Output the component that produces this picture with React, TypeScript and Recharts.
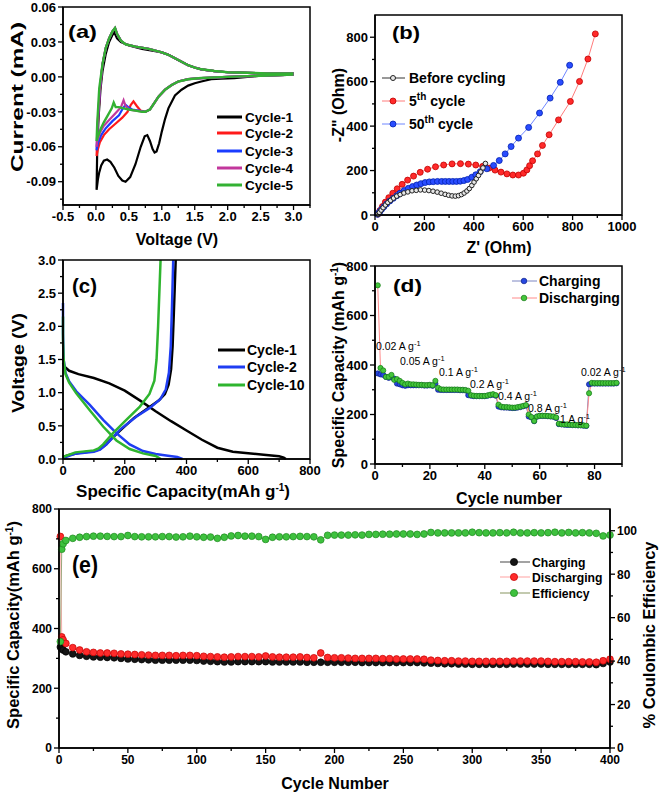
import React from 'react'
import { LineChart, Line, XAxis, YAxis } from 'recharts'

const W = 661
const H = 795
const F = '"Liberation Sans", Arial, Helvetica, sans-serif'

// ---------- (a) cyclic voltammetry, [V, mA] ----------
const cv1: [number, number][] = [
  [3.0, 0.002], [2.8, 0.0015], [2.5, 0.001], [2.3, 0.0], [2.1, -0.001], [1.9, -0.0015], [1.75, -0.002],
  [1.6, -0.004], [1.5, -0.0055], [1.4, -0.0075], [1.3, -0.011], [1.2, -0.016], [1.1, -0.027], [1.05, -0.036],
  [1.0, -0.047], [0.96, -0.057], [0.92, -0.064], [0.89, -0.065], [0.86, -0.062], [0.82, -0.055], [0.78, -0.05],
  [0.74, -0.051], [0.68, -0.06], [0.6, -0.075], [0.52, -0.086], [0.45, -0.09], [0.4, -0.089], [0.34, -0.085],
  [0.28, -0.078], [0.22, -0.073], [0.17, -0.071], [0.12, -0.072], [0.08, -0.076], [0.05, -0.082], [0.03, -0.088],
  [0.01, -0.097], [0.02, -0.06], [0.04, -0.035], [0.07, -0.01], [0.1, 0.005], [0.15, 0.02], [0.2, 0.03],
  [0.25, 0.036], [0.28, 0.038], [0.32, 0.033], [0.38, 0.03], [0.5, 0.027], [0.7, 0.024], [0.9, 0.022],
  [1.0, 0.021], [1.1, 0.019], [1.2, 0.016], [1.3, 0.013], [1.4, 0.01], [1.5, 0.008], [1.6, 0.0065],
  [1.8, 0.005], [2.0, 0.004], [2.3, 0.0035], [2.6, 0.003], [3.0, 0.003],
]
const cvHigh: [number, number][] = [
  [3.0, 0.002], [2.5, 0.001], [2.0, 0.0], [1.6, -0.001], [1.4, -0.002], [1.25, -0.004], [1.15, -0.007],
  [1.05, -0.011], [0.95, -0.017], [0.88, -0.023], [0.82, -0.028], [0.75, -0.03],
]
const cvAnodic: [number, number][] = [
  [0.1, 0.011], [0.15, 0.025], [0.2, 0.033], [0.25, 0.039], [0.29, 0.042], [0.32, 0.037], [0.38, 0.031],
  [0.45, 0.028], [0.6, 0.026], [0.8, 0.024], [1.0, 0.021], [1.1, 0.019], [1.2, 0.016], [1.3, 0.013],
  [1.4, 0.01], [1.5, 0.008], [1.6, 0.0065], [1.8, 0.005], [2.0, 0.004], [2.3, 0.0035], [2.6, 0.003], [3.0, 0.003],
]
const cv2Low: [number, number][] = [
  [0.68, -0.029], [0.62, -0.025], [0.57, -0.021], [0.53, -0.024], [0.48, -0.03], [0.4, -0.035], [0.3, -0.04],
  [0.2, -0.045], [0.12, -0.05], [0.06, -0.056], [0.03, -0.062], [0.01, -0.068], [0.03, -0.04], [0.06, -0.012],
]
const cv3Low: [number, number][] = [
  [0.65, -0.029], [0.55, -0.028], [0.49, -0.026], [0.45, -0.024], [0.41, -0.027], [0.35, -0.033], [0.25, -0.038],
  [0.15, -0.044], [0.08, -0.05], [0.03, -0.057], [0.01, -0.063], [0.03, -0.038], [0.06, -0.011],
]
const cv4Low: [number, number][] = [
  [0.6, -0.029], [0.5, -0.028], [0.45, -0.025], [0.42, -0.02], [0.38, -0.026], [0.3, -0.031], [0.2, -0.037],
  [0.12, -0.042], [0.06, -0.048], [0.02, -0.055], [0.01, -0.06], [0.03, -0.036], [0.06, -0.01],
]
const cv5Low: [number, number][] = [
  [0.7, -0.03], [0.6, -0.029], [0.5, -0.028], [0.42, -0.027], [0.35, -0.026], [0.3, -0.026], [0.27, -0.022],
  [0.24, -0.027], [0.18, -0.033], [0.12, -0.039], [0.07, -0.045], [0.03, -0.051], [0.01, -0.055], [0.02, -0.04],
  [0.05, -0.01],
]

// ---------- (b) Nyquist, [Z', -Z''] ----------
const eisBefore: [number, number][] = [
  [12, 3], [18, 12], [25, 22], [33, 33], [42, 45], [52, 56], [63, 66], [75, 76], [88, 85], [102, 92], [117, 99],
  [133, 104], [150, 109], [167, 111], [184, 113], [201, 112], [218, 110], [235, 107], [252, 103], [268, 98],
  [284, 93], [298, 89], [312, 86], [325, 85], [338, 87], [350, 92], [361, 99], [372, 108], [382, 119], [392, 133],
  [401, 148], [410, 163], [419, 178], [428, 194], [437, 212], [447, 232],
]
const eis5th: [number, number][] = [
  [12, 4], [20, 20], [30, 38], [42, 58], [56, 78], [72, 98], [90, 118], [110, 138], [132, 157], [156, 175],
  [183, 192], [213, 206], [245, 217], [278, 225], [312, 230], [346, 231], [378, 229], [408, 225], [436, 219],
  [462, 211], [486, 202], [510, 193], [534, 185], [558, 180], [581, 180], [601, 188], [615, 203], [626, 222],
  [638, 244], [658, 275], [678, 313], [705, 361], [743, 428], [791, 511], [828, 601], [862, 702], [892, 815],
]
const eis50th: [number, number][] = [
  [10, 3], [14, 8], [20, 16], [27, 26], [36, 37], [47, 50], [60, 63], [74, 75], [88, 87], [101, 98], [118, 110],
  [135, 120], [152, 128], [169, 135], [186, 141], [203, 146], [220, 149], [236, 150], [253, 151], [270, 151],
  [285, 151], [300, 151], [315, 151], [330, 151], [345, 152], [360, 155], [375, 160], [392, 170], [408, 181],
  [426, 195], [453, 208], [480, 223], [503, 245], [527, 275], [551, 308], [581, 346], [622, 394], [666, 459],
  [709, 526], [750, 597], [788, 674],
]

// ---------- (c) charge / discharge profiles, [mAh/g, V] ----------
const gc1Dis: [number, number][] = [
  [0, 1.45], [5, 1.39], [20, 1.33], [50, 1.28], [100, 1.22], [150, 1.14], [200, 1.03], [250, 0.88], [300, 0.72],
  [350, 0.57], [400, 0.43], [450, 0.29], [500, 0.17], [550, 0.11], [600, 0.085], [650, 0.065], [700, 0.04],
  [715, 0.02], [722, 0.0],
]
const gc1Chg: [number, number][] = [
  [0, 0.03], [20, 0.06], [50, 0.09], [100, 0.12], [120, 0.15], [140, 0.22], [160, 0.32], [190, 0.45], [230, 0.62],
  [270, 0.75], [310, 0.88], [330, 0.98], [342, 1.12], [350, 1.35], [355, 1.7], [359, 2.2], [362, 2.6], [365, 3.0],
]
const gc2Dis: [number, number][] = [
  [0, 2.35], [0, 1.9], [2, 1.5], [8, 1.3], [20, 1.17], [43, 1.02], [86, 0.82], [130, 0.59], [173, 0.39],
  [216, 0.22], [259, 0.12], [300, 0.075], [340, 0.05], [370, 0.03], [387, 0.0],
]
const gc2Chg: [number, number][] = [
  [0, 0.015], [40, 0.08], [100, 0.11], [120, 0.14], [141, 0.22], [184, 0.44], [238, 0.64], [281, 0.77],
  [315, 0.9], [333, 1.05], [343, 1.3], [349, 1.7], [353, 2.3], [357, 3.0],
]
const gc10Dis: [number, number][] = [
  [0, 2.15], [0, 1.8], [2, 1.5], [8, 1.28], [20, 1.15], [43, 0.99], [86, 0.74], [130, 0.49], [173, 0.28],
  [216, 0.15], [259, 0.085], [300, 0.045], [317, 0.0],
]
const gc10Chg: [number, number][] = [
  [0, 0.03], [40, 0.1], [100, 0.13], [115, 0.16], [130, 0.22], [162, 0.39], [205, 0.59], [249, 0.79],
  [280, 0.98], [296, 1.18], [303, 1.5], [308, 2.0], [312, 2.5], [316, 3.0],
]

// ---------- (d) rate capability ----------
const rateCycles = [
  1, 2, 3, 4, 5, 6, 7, 8, 9, 10, 11, 12, 13, 14, 15, 16, 17, 18, 19, 20, 21, 22, 23, 24, 25, 26, 27, 28, 29, 30,
  31, 32, 33, 34, 35, 36, 37, 38, 39, 40, 41, 42, 43, 44, 45, 46, 47, 48, 49, 50, 51, 52, 53, 54, 55, 56, 57, 58,
  59, 60, 61, 62, 63, 64, 65, 66, 67, 68, 69, 70, 71, 72, 73, 74, 75, 76, 77, 78, 79, 80, 81, 82, 83, 84, 85, 86,
  87, 88,
]
const rateCharge = [
  366, 362, 360, 352, 348, 350, 345, 325, 322, 318, 316, 318, 318, 318, 318, 318, 318, 317, 317, 318, 316, 325,
  300, 299, 299, 299, 299, 299, 299, 299, 298, 298, 297, 278, 276, 274, 274, 274, 274, 274, 276, 278, 280, 276,
  232, 229, 228, 228, 227, 226, 226, 228, 230, 233, 236, 192, 188, 173, 191, 194, 194, 194, 193, 192, 191, 186,
  161, 160, 159, 158, 158, 157, 157, 156, 156, 155, 154, 322, 325, 325, 325, 325, 325, 325, 325, 325, 325, 326,
]
const rateDischarge = [
  722, 388, 378, 352, 352, 360, 340, 343, 336, 328, 322, 325, 322, 322, 321, 320, 320, 319, 319, 320, 318, 336,
  308, 302, 301, 301, 301, 301, 301, 301, 300, 300, 299, 296, 278, 276, 275, 275, 275, 275, 277, 280, 282, 278,
  240, 232, 230, 230, 229, 228, 228, 230, 232, 235, 238, 200, 190, 174, 192, 195, 195, 195, 194, 193, 192, 188,
  163, 161, 160, 160, 159, 158, 158, 157, 157, 156, 155, 286, 328, 327, 327, 327, 327, 327, 327, 327, 327, 328,
]
const rateLabels = ['0.02', '0.05', '0.1', '0.2', '0.4', '0.8', '1', '0.02']

// ---------- (e) long cycling ----------
const longCycles = [
  1, 2, 3, 5, 10, 15, 20, 25, 30, 35, 40, 45, 50, 55, 60, 65, 70, 75, 80, 85, 90, 95, 100, 105, 110, 115, 120,
  125, 130, 135, 140, 145, 150, 155, 160, 165, 170, 175, 180, 185, 190, 195, 200, 205, 210, 215, 220, 225, 230,
  235, 240, 245, 250, 255, 260, 265, 270, 275, 280, 285, 290, 295, 300, 305, 310, 315, 320, 325, 330, 335, 340,
  345, 350, 355, 360, 365, 370, 375, 380, 385, 390, 395, 400,
]
const longDischarge = [
  708, 372, 362, 350, 336, 328, 322, 320, 318, 318, 317, 315, 314, 313, 312, 311, 310, 310, 310, 309, 310, 310,
  309, 307, 306, 305, 304, 305, 306, 306, 306, 305, 308, 305, 304, 304, 304, 305, 303, 302, 318, 303, 302, 302,
  301, 300, 300, 300, 300, 299, 299, 298, 298, 298, 298, 297, 294, 293, 292, 292, 291, 291, 290, 290, 290, 290,
  290, 290, 291, 291, 291, 291, 291, 290, 289, 289, 289, 289, 288, 288, 287, 292, 297,
]
const longCharge = [
  338, 332, 328, 322, 315, 310, 307, 305, 304, 303, 302, 300, 298, 297, 296, 295, 294, 294, 294, 294, 294, 294,
  293, 291, 290, 289, 288, 288, 289, 289, 289, 289, 289, 288, 288, 288, 288, 288, 287, 287, 287, 287, 287, 287,
  287, 287, 286, 286, 286, 286, 286, 286, 286, 286, 286, 285, 284, 283, 282, 282, 281, 281, 280, 280, 280, 280,
  280, 280, 281, 281, 281, 281, 281, 280, 280, 280, 280, 280, 280, 280, 279, 283, 288,
]
const longEfficiency = [
  49, 91.5, 94, 95.5, 96.5, 97, 97.3, 97.5, 97.5, 97.4, 97.3, 97.3, 97.8, 97.3, 97.2, 97.2, 97.2, 97.3, 97.3,
  97.1, 97.2, 97.5, 97.2, 97.0, 97.1, 96.5, 97.0, 97.6, 97.8, 97.5, 97.5, 97.3, 96.0, 97.0, 97.2, 97.2, 97.3,
  97.4, 97.3, 97.2, 95.8, 97.9, 98.0, 98.0, 98.0, 98.1, 98.0, 98.3, 98.3, 98.4, 98.4, 98.5, 98.5, 98.5, 98.3,
  98.5, 99.2, 99.0, 99.0, 99.0, 99.0, 99.0, 99.3, 99.1, 99.0, 99.0, 99.1, 99.0, 99.3, 99.0, 99.0, 99.1, 99.0,
  99.1, 99.3, 99.0, 99.2, 99.0, 99.1, 99.0, 98.8, 97.6, 98.0,
]

// ---------- ticks (major + minor) ----------
const aXTicks = [-0.5, -0.25, 0, 0.25, 0.5, 0.75, 1, 1.25, 1.5, 1.75, 2, 2.25, 2.5, 2.75, 3, 3.25]
const aYTicks = [-0.105, -0.09, -0.075, -0.06, -0.045, -0.03, -0.015, 0, 0.015, 0.03, 0.045, 0.06]
const bXTicks = [0, 100, 200, 300, 400, 500, 600, 700, 800, 900, 1000]
const bYTicks = [0, 100, 200, 300, 400, 500, 600, 700, 800]
const cXTicks = [0, 100, 200, 300, 400, 500, 600, 700, 800]
const cYTicks = [0, 0.25, 0.5, 0.75, 1, 1.25, 1.5, 1.75, 2, 2.25, 2.5, 2.75, 3]
const dXTicks = [0, 10, 20, 30, 40, 50, 60, 70, 80, 90]
const dYTicks = [0, 100, 200, 300, 400, 500, 600, 700, 800]
const eXTicks = [0, 25, 50, 75, 100, 125, 150, 175, 200, 225, 250, 275, 300, 325, 350, 375, 400]
const eYLTicks = [0, 100, 200, 300, 400, 500, 600, 700, 800]
const eYRTicks = [0, 10, 20, 30, 40, 50, 60, 70, 80, 90, 100]

const pts = (a: [number, number][]) => a.map(([x, y]) => ({ x, y }))

const rateData = rateCycles.map((c, i) => ({ c, chg: rateCharge[i], dis: rateDischarge[i] }))
const longData = longCycles.map((c, i) => ({
  c, chg: longCharge[i], dis: longDischarge[i], eff: longEfficiency[i],
}))

// plot boxes in page pixels
const PA = { L: 63, T: 7, R: 310, B: 205 }
const PB = { L: 375, T: 15, R: 622, B: 215 }
const PC = { L: 63, T: 260, R: 310, B: 459 }
const PD = { L: 375, T: 266, R: 622, B: 464 }
const PE = { L: 59, T: 509, R: 610, B: 748 }

type Box = typeof PA
const marginFor = (b: Box, rightAxis = false) => ({
  top: b.T,
  left: b.L - 40,
  right: W - b.R - (rightAxis ? 40 : 0),
  bottom: H - b.B - 30,
})

const mkTick = (side: 'left' | 'right' | 'bottom', step: number, fmt: (v: number) => string, fs = 13) =>
  (p: any) => {
    const v = p.payload.value as number
    const major = Math.abs(v / step - Math.round(v / step)) < 1e-6
    const len = major ? 5 : 3
    const { x, y } = p
    const t = { fontSize: fs, fontWeight: 700, fontFamily: F, fill: '#000' }
    if (side === 'bottom') {
      return (
        <g>
          <line x1={x} x2={x} y1={y} y2={y + len} stroke="#000" strokeWidth={1.3} />
          {major && <text x={x} y={y + 7 + fs * 0.72} textAnchor="middle" {...t}>{fmt(v)}</text>}
        </g>
      )
    }
    if (side === 'left') {
      return (
        <g>
          <line x1={x - len} x2={x} y1={y} y2={y} stroke="#000" strokeWidth={1.3} />
          {major && <text x={x - 7} y={y + fs * 0.36} textAnchor="end" {...t}>{fmt(v)}</text>}
        </g>
      )
    }
    return (
      <g>
        <line x1={x} x2={x + len} y1={y} y2={y} stroke="#000" strokeWidth={1.3} />
        {major && <text x={x + 7} y={y + fs * 0.36} textAnchor="start" {...t}>{fmt(v)}</text>}
      </g>
    )
  }

const int = (v: number) => String(Math.round(v))
const axisCommon = { tickSize: 0, tickMargin: 0, tickLine: false, interval: 0 as const, axisLine: { stroke: '#000', strokeWidth: 1.5 } }

const layer: React.CSSProperties = { position: 'absolute', left: 0, top: 0 }

function T({ x, y, size = 16, children, anchor = 'start', rot = false, len, weight = 700 }: any) {
  return (
    <text
      x={x}
      y={y}
      fontSize={size}
      fontWeight={weight}
      fontFamily={F}
      fill="#000"
      textAnchor={anchor}
      textLength={len}
      lengthAdjust={len ? 'spacingAndGlyphs' : undefined}
      transform={rot ? `rotate(-90 ${x} ${y})` : undefined}
    >
      {children}
    </text>
  )
}

// raised text followed (optionally) by text back on the baseline
const Sup = ({ t, after, d = 6, fs = 10 }: { t: string; after?: string; d?: number; fs?: number }) => (
  <>
    <tspan dy={-d} fontSize={fs}>{t}</tspan>
    {after && <tspan dy={d}>{after}</tspan>}
  </>
)

const legA = [
  { n: 'Cycle-1', c: '#000000' },
  { n: 'Cycle-2', c: '#ff1a1a' },
  { n: 'Cycle-3', c: '#1a3cff' },
  { n: 'Cycle-4', c: '#c2379c' },
  { n: 'Cycle-5', c: '#33b133' },
]
const legAY = [117, 133, 151, 168, 185]
const legC = [
  { n: 'Cycle-1', c: '#000000' },
  { n: 'Cycle-2', c: '#1f3df2' },
  { n: 'Cycle-10', c: '#2fb52f' },
]
const legCY = [350, 367, 385]

export default function App() {
  return (
    <div style={{ position: 'absolute', left: 0, top: 0, width: W, height: H, background: '#fff', overflow: 'hidden' }}>
      {/* (a) */}
      <div style={layer}>
        <LineChart width={W} height={H} margin={marginFor(PA)}>
          <XAxis dataKey="x" type="number" domain={[-0.5, 3.25]} ticks={aXTicks} {...axisCommon}
            tick={mkTick('bottom', 0.5, (v) => v.toFixed(1))} />
          <YAxis type="number" domain={[-0.11, 0.06]} ticks={aYTicks} width={40} {...axisCommon}
            tick={mkTick('left', 0.03, (v) => v.toFixed(2))} />
          <Line data={pts(cv1)} dataKey="y" stroke="#000" strokeWidth={2.2} dot={false} isAnimationActive={false} />
          <Line data={pts([...cvHigh, ...cv2Low, ...cvAnodic])} dataKey="y" stroke="#ff1a1a" strokeWidth={2.2} dot={false} isAnimationActive={false} />
          <Line data={pts([...cvHigh, ...cv3Low, ...cvAnodic])} dataKey="y" stroke="#1a3cff" strokeWidth={2.2} dot={false} isAnimationActive={false} />
          <Line data={pts([...cvHigh, ...cv4Low, ...cvAnodic])} dataKey="y" stroke="#c2379c" strokeWidth={2.2} dot={false} isAnimationActive={false} />
          <Line data={pts([...cvHigh, ...cv5Low, ...cvAnodic])} dataKey="y" stroke="#33b133" strokeWidth={2.4} dot={false} isAnimationActive={false} />
        </LineChart>
      </div>

      {/* (b) */}
      <div style={layer}>
        <LineChart width={W} height={H} margin={marginFor(PB)}>
          <XAxis dataKey="x" type="number" domain={[0, 1000]} ticks={bXTicks} {...axisCommon}
            tick={mkTick('bottom', 200, int)} />
          <YAxis type="number" domain={[0, 900]} ticks={bYTicks} width={40} {...axisCommon}
            tick={mkTick('left', 200, int)} />
          <Line data={pts(eis5th)} dataKey="y" stroke="#ff7c7c" strokeWidth={1}
            dot={{ r: 3, fill: '#ff2a2a', stroke: '#c00000', strokeWidth: 0.8 }} isAnimationActive={false} />
          <Line data={pts(eis50th)} dataKey="y" stroke="#6f86ff" strokeWidth={1}
            dot={{ r: 3, fill: '#2a4dff', stroke: '#0020b0', strokeWidth: 0.8 }} isAnimationActive={false} />
          <Line data={pts(eisBefore)} dataKey="y" stroke="#333" strokeWidth={1}
            dot={{ r: 2.3, fill: '#e8e8e8', stroke: '#222', strokeWidth: 1 }} isAnimationActive={false} />
        </LineChart>
      </div>

      {/* (c) */}
      <div style={layer}>
        <LineChart width={W} height={H} margin={marginFor(PC)}>
          <XAxis dataKey="x" type="number" domain={[0, 800]} ticks={cXTicks} {...axisCommon}
            tick={mkTick('bottom', 200, int)} />
          <YAxis type="number" domain={[0, 3]} ticks={cYTicks} width={40} {...axisCommon}
            tick={mkTick('left', 0.5, (v) => v.toFixed(1))} />
          <Line data={pts(gc1Dis)} dataKey="y" stroke="#000" strokeWidth={2.5} dot={false} isAnimationActive={false} />
          <Line data={pts(gc1Chg)} dataKey="y" stroke="#000" strokeWidth={2.5} dot={false} isAnimationActive={false} />
          <Line data={pts(gc2Dis)} dataKey="y" stroke="#1f3df2" strokeWidth={2.5} dot={false} isAnimationActive={false} />
          <Line data={pts(gc2Chg)} dataKey="y" stroke="#1f3df2" strokeWidth={2.5} dot={false} isAnimationActive={false} />
          <Line data={pts(gc10Dis)} dataKey="y" stroke="#2fb52f" strokeWidth={2.5} dot={false} isAnimationActive={false} />
          <Line data={pts(gc10Chg)} dataKey="y" stroke="#2fb52f" strokeWidth={2.5} dot={false} isAnimationActive={false} />
        </LineChart>
      </div>

      {/* (d) */}
      <div style={layer}>
        <LineChart width={W} height={H} margin={marginFor(PD)} data={rateData}>
          <XAxis dataKey="c" type="number" domain={[0, 90]} ticks={dXTicks} {...axisCommon}
            tick={mkTick('bottom', 20, int)} />
          <YAxis type="number" domain={[0, 800]} ticks={dYTicks} width={40} {...axisCommon}
            tick={mkTick('left', 200, int)} />
          <Line dataKey="chg" stroke="#7c86c2" strokeWidth={1}
            dot={{ r: 2.6, fill: '#2747e0', stroke: '#0c1f8a', strokeWidth: 0.7 }} isAnimationActive={false} />
          <Line dataKey="dis" stroke="#ff8a8a" strokeWidth={1}
            dot={{ r: 2.6, fill: '#45c63c', stroke: '#147a14', strokeWidth: 0.7 }} isAnimationActive={false} />
        </LineChart>
      </div>

      {/* (e) */}
      <div style={layer}>
        <LineChart width={W} height={H} margin={marginFor(PE, true)} data={longData}>
          <XAxis dataKey="c" type="number" domain={[0, 400]} ticks={eXTicks} {...axisCommon}
            tick={mkTick('bottom', 50, int, 12)} />
          <YAxis yAxisId="L" type="number" domain={[0, 800]} ticks={eYLTicks} width={40} {...axisCommon}
            tick={mkTick('left', 200, int, 12)} />
          <YAxis yAxisId="R" orientation="right" type="number" domain={[0, 110]} ticks={eYRTicks} width={40} {...axisCommon}
            tick={mkTick('right', 20, int, 12)} />
          <Line yAxisId="L" dataKey="chg" stroke="#666" strokeWidth={1}
            dot={{ r: 3.4, fill: '#151515', stroke: '#000', strokeWidth: 0.7 }} isAnimationActive={false} />
          <Line yAxisId="L" dataKey="dis" stroke="#ffb0b0" strokeWidth={1}
            dot={{ r: 3.4, fill: '#ff2b2b', stroke: '#c40000', strokeWidth: 0.7 }} isAnimationActive={false} />
          <Line yAxisId="R" dataKey="eff" stroke="#9aa67a" strokeWidth={1}
            dot={{ r: 3.4, fill: '#3ec13e', stroke: '#1e8a1e', strokeWidth: 0.7 }} isAnimationActive={false} />
        </LineChart>
      </div>

      {/* frames, titles, legends, notes */}
      <svg width={W} height={H} style={{ ...layer, pointerEvents: 'none' }}>
        {[PA, PB, PC, PD, PE].map((b, i) => (
          <rect key={i} x={b.L} y={b.T} width={b.R - b.L} height={b.B - b.T} fill="none" stroke="#000" strokeWidth={1.5} />
        ))}

        {/* panel letters */}
        <T x={68} y={37.5} size={19} len={29}>(a)</T>
        <T x={392} y={38.5} size={19} len={28}>(b)</T>
        <T x={72} y={293} size={20} len={25}>(c)</T>
        <T x={393} y={291.5} size={19} len={29}>(d)</T>
        <T x={72} y={573} size={23} len={26}>(e)</T>

        {/* axis titles */}
        <T x={23} y={97} size={17} anchor="middle" rot len={150}>Current (mA)</T>
        <T x={177} y={245} size={16} anchor="middle">Voltage (V)</T>
        <T x={344} y={105} size={16} anchor="middle" rot>-Z" (Ohm)</T>
        <T x={499} y={253} size={16} anchor="middle">Z' (Ohm)</T>
        <T x={24} y={363} size={16} anchor="middle" rot len={100}>Voltage (V)</T>
        <T x={183} y={497} size={17} anchor="middle">
          Specific Capacity(mAh g<Sup t="-1" after=")" />
        </T>
        <T x={344} y={365} size={16} anchor="middle" rot>
          Specific Capacity (mAh g<Sup t="-1" after=")" />
        </T>
        <T x={509} y={504} size={16} anchor="middle">Cycle number</T>
        <T x={19} y={625} size={16.5} anchor="middle" rot>
          Specific Capacity(mAh g<Sup t="-1" after=")" />
        </T>
        <T x={655} y={635} size={16.5} anchor="middle" rot>% Coulombic Efficiency</T>
        <T x={335} y={789} size={16} anchor="middle">Cycle Number</T>

        {/* legend (a) */}
        {legA.map((l, i) => (
          <g key={l.n}>
            <line x1={217} x2={242} y1={legAY[i]} y2={legAY[i]} stroke={l.c} strokeWidth={3} />
            <T x={245} y={legAY[i] + 5} size={13.5}>{l.n}</T>
          </g>
        ))}

        {/* legend (b) */}
        <line x1={382} x2={405} y1={78} y2={78} stroke="#333" strokeWidth={1} />
        <circle cx={393} cy={78} r={2.5} fill="#e8e8e8" stroke="#222" />
        <T x={409} y={83} size={14}>Before cycling</T>
        <line x1={382} x2={405} y1={101} y2={101} stroke="#ff7c7c" strokeWidth={1} />
        <circle cx={393} cy={101} r={3} fill="#ff2a2a" stroke="#c00000" strokeWidth={0.8} />
        <T x={409} y={106} size={14}>5<Sup t="th" after=" cycle" /></T>
        <line x1={382} x2={405} y1={124} y2={124} stroke="#6f86ff" strokeWidth={1} />
        <circle cx={393} cy={124} r={3} fill="#2a4dff" stroke="#0020b0" strokeWidth={0.8} />
        <T x={409} y={129} size={14}>50<Sup t="th" after=" cycle" /></T>

        {/* legend (c) */}
        {legC.map((l, i) => (
          <g key={l.n}>
            <line x1={218} x2={245} y1={legCY[i]} y2={legCY[i]} stroke={l.c} strokeWidth={3} />
            <T x={247} y={legCY[i] + 5} size={14}>{l.n}</T>
          </g>
        ))}

        {/* legend (d) */}
        <line x1={512} x2={537} y1={281} y2={281} stroke="#7c86c2" strokeWidth={1} />
        <circle cx={524} cy={281} r={2.8} fill="#2747e0" stroke="#0c1f8a" strokeWidth={0.7} />
        <T x={539} y={286} size={14}>Charging</T>
        <line x1={512} x2={537} y1={298} y2={298} stroke="#ff8a8a" strokeWidth={1} />
        <circle cx={524} cy={298} r={2.8} fill="#45c63c" stroke="#147a14" strokeWidth={0.7} />
        <T x={539} y={303} size={14}>Discharging</T>

        {/* rate notes (d) */}
        {[
          [376, 350], [400, 365], [439, 376], [470, 388], [498, 400], [528, 412], [560, 423], [581, 376],
        ].map(([x, y], i) => (
          <T key={i} x={x} y={y} size={10.5} weight={400}>
            {rateLabels[i]} A g<Sup t="-1" d={4} fs={7.5} />
          </T>
        ))}

        {/* legend (e) */}
        {[
          { n: 'Charging', y: 562, line: '#666', fill: '#151515', st: '#000' },
          { n: 'Discharging', y: 577, line: '#ffb0b0', fill: '#ff2b2b', st: '#c40000' },
          { n: 'Efficiency', y: 593, line: '#9aa67a', fill: '#3ec13e', st: '#1e8a1e' },
        ].map((l) => (
          <g key={l.n}>
            <line x1={500} x2={530} y1={l.y} y2={l.y} stroke={l.line} strokeWidth={1.2} />
            <circle cx={514} cy={l.y} r={3.6} fill={l.fill} stroke={l.st} strokeWidth={0.7} />
            <T x={532} y={l.y + 4.5} size={12.2}>{l.n}</T>
          </g>
        ))}
      </svg>
    </div>
  )
}
